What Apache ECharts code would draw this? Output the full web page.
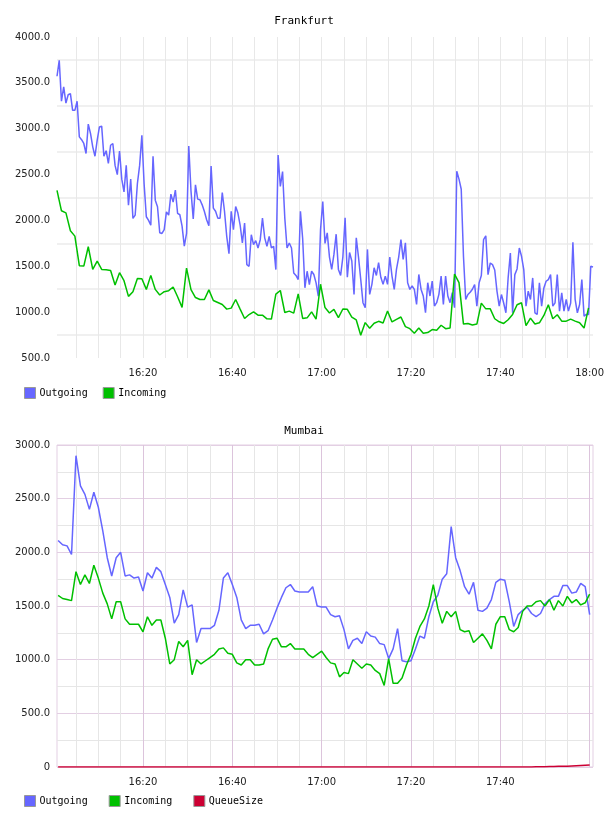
<!DOCTYPE html>
<html>
<head>
<meta charset="utf-8">
<script src="https://cdn.jsdelivr.net/npm/echarts@6/dist/echarts.min.js"></script>
<style>
  html, body { margin: 0; padding: 0; background: #fff; }
  #chart { width: 608px; height: 816px; }
</style>
</head>
<body>
<div id="chart"></div>
<script>
// time in minutes since midnight
const firstSample = 960.75
const fiveMinTicks = [965, 970, 975, 980, 985, 990, 995, 1000, 1005, 1010, 1015, 1020, 1025, 1030,
  1035, 1040, 1045, 1050, 1055, 1060, 1065, 1070, 1075, 1080]
const topTimeLabels = [980, 1000, 1020, 1040, 1060, 1080]
const bottomTimeLabels = [980, 1000, 1020, 1040, 1060]

// Frankfurt, Outgoing every 30 s
const frankfurtOutgoing = [
  3572, 3745, 3300, 3456, 3280, 3370, 3383, 3200, 3200, 3300,
  2911, 2880, 2839, 2730, 3050, 2948, 2802, 2700, 2875, 3020,
  3028, 2700, 2760, 2621, 2820, 2839, 2600, 2500, 2755, 2450,
  2312, 2600, 2167, 2450, 2022, 2058, 2403, 2600, 2929, 2400,
  2040, 2000, 1949, 2700, 2221, 2149, 1866, 1858, 1900, 2094,
  2058, 2287, 2200, 2330, 2076, 2062, 1938, 1720, 1858, 2810,
  2320, 2015, 2388, 2232, 2225, 2170, 2098, 2007, 1942, 2594,
  2134, 2100, 2025, 2025, 2304, 2100, 1826, 1638, 2100, 1899,
  2152, 2080, 1950, 1754, 1971, 1518, 1500, 1844, 1736, 1780,
  1700, 1790, 2025, 1810, 1718, 1826, 1700, 1718, 1464, 2714,
  2370, 2533, 2025, 1700, 1754, 1700, 1428, 1400, 1355, 2100,
  1800, 1265, 1446, 1300, 1446, 1410, 1319, 1174, 1900, 2207,
  1750, 1865, 1600, 1466, 1629, 1850, 1466, 1400, 1600, 2028,
  1380, 1650, 1557, 1194, 1811, 1600, 1357, 1103, 1049, 1684,
  1194, 1303, 1484, 1400, 1539, 1380, 1303, 1393, 1303, 1600,
  1393, 1248, 1466, 1600, 1792, 1575, 1756, 1321, 1248, 1285,
  1248, 1085, 1411, 1250, 1176, 994, 1321, 1176, 1339, 1067,
  1103, 1194, 1393, 1085, 1393, 1176, 1103, 1212, 1049, 2536,
  2450, 2340, 1609, 1138, 1192, 1217, 1250, 1301, 1065, 1319,
  1400, 1790, 1833, 1409, 1536, 1518, 1460, 1230, 1065, 1192,
  1100, 993, 1373, 1645, 993, 1409, 1471, 1699, 1609, 1464,
  1065, 1228, 1138, 1373, 993, 975, 1319, 1065, 1264, 1337,
  1355, 1409, 1065, 1102, 1409, 1011, 1210, 1011, 1138, 1011,
  1100, 1761, 1138, 993, 1083, 1355, 957, 975, 975, 1500, 1493
]

// Frankfurt, Incoming every minute
const frankfurtIncoming = [
  2327, 2105, 2083, 1887, 1829, 1506, 1502, 1713, 1466, 1557,
  1466, 1462, 1455, 1295, 1430, 1343, 1172, 1223, 1368, 1364,
  1248, 1401, 1248, 1187, 1223, 1234, 1274, 1168, 1052, 1480,
  1246, 1159, 1138, 1138, 1243, 1127, 1105, 1083, 1033, 1044,
  1138, 1033, 931, 974, 1003, 967, 967, 927, 924, 1196,
  1236, 996, 1011, 989, 1199, 931, 938, 1003, 924, 1304,
  1050, 991, 1031, 940, 1034, 1031, 947, 915, 748, 886,
  824, 879, 900, 882, 1013, 893, 922, 947, 842, 820,
  770, 828, 770, 777, 810, 802, 857, 820, 828, 1415,
  1321, 870, 877, 859, 870, 1098, 1036, 1036, 928, 895,
  877, 917, 975, 1080, 1102, 852, 935, 870, 884, 964,
  1080, 928, 971, 902, 902, 924, 902, 884, 826, 1047
]

// Mumbai, every minute
const mumbaiOutgoing = [
  2110, 2070, 2060, 1980, 2900, 2620, 2540, 2400, 2560, 2420,
  2200, 1950, 1780, 1950, 2000, 1780, 1790, 1760, 1770, 1640,
  1810, 1760, 1860, 1820, 1700, 1580, 1340, 1420, 1650, 1490,
  1510, 1160, 1290, 1290, 1290, 1320, 1460, 1760, 1810, 1700,
  1580, 1370, 1290, 1320, 1320, 1330, 1240, 1270, 1370, 1480,
  1580, 1670, 1700, 1640, 1630, 1630, 1630, 1680, 1500, 1490,
  1490, 1420, 1400, 1410, 1280, 1100, 1180, 1200, 1150, 1260,
  1220, 1210, 1150, 1140, 1010, 1100, 1290, 990, 980, 990,
  1100, 1220, 1200, 1400, 1540, 1600, 1750, 1800, 2240, 1950,
  1830, 1680, 1610, 1720, 1460, 1450, 1480, 1560, 1720, 1750,
  1740, 1540, 1310, 1420, 1460, 1490, 1430, 1400, 1430, 1520,
  1560, 1590, 1590, 1690, 1690, 1620, 1630, 1710, 1680, 1420
]
const mumbaiIncoming = [
  1600, 1570, 1560, 1550, 1820, 1700, 1790, 1710, 1880, 1760,
  1620, 1520, 1380, 1540, 1540, 1380, 1330, 1330, 1330, 1260,
  1400, 1320, 1370, 1370, 1200, 960, 1000, 1170, 1120, 1180,
  860, 1000, 960, 990, 1020, 1050, 1100, 1110, 1060, 1050,
  970, 950, 1000, 1000, 950, 950, 960, 1100, 1190, 1200,
  1120, 1120, 1150, 1100, 1100, 1100, 1050, 1020, 1050, 1080,
  1020, 970, 960, 840, 880, 870, 1000, 960, 920, 960,
  950, 900, 870, 760, 1010, 780, 780, 830, 950, 1050,
  1200, 1310, 1380, 1500, 1700, 1480, 1340, 1450, 1400, 1450,
  1280, 1260, 1270, 1160, 1200, 1240, 1180, 1100, 1330, 1400,
  1400, 1280, 1260, 1300, 1450, 1500, 1500, 1540, 1550, 1500,
  1560, 1460, 1550, 1500, 1590, 1530, 1560, 1510, 1530, 1610
]
const mumbaiQueueSize = [
  0, 0, 0, 0, 0, 0, 0, 0, 0, 0,
  0, 0, 0, 0, 0, 0, 0, 0, 0, 0,
  0, 0, 0, 0, 0, 0, 0, 0, 0, 0,
  0, 0, 0, 0, 0, 0, 0, 0, 0, 0,
  0, 0, 0, 0, 0, 0, 0, 0, 0, 0,
  0, 0, 0, 0, 0, 0, 0, 0, 0, 0,
  0, 0, 0, 0, 0, 0, 0, 0, 0, 0,
  0, 0, 0, 0, 0, 0, 0, 0, 0, 0,
  0, 0, 0, 0, 0, 0, 0, 0, 0, 0,
  0, 0, 0, 0, 0, 0, 0, 0, 0, 0,
  0, 0, 0, 0, 0, 1, 1, 2, 2, 3,
  4, 5, 6, 7, 8, 10, 12, 14, 16, 18
]

const MONO = 'DejaVu Sans Mono'
const SANS = 'DejaVu Sans'
const BLUE = '#6666ff'
const GREEN = '#00c000'
const RED = '#cc0033'

// 시간(분) -> HH:MM
const hhmm = v => {
  const h = Math.floor(v / 60)
  const m = Math.round(v % 60)
  return h + ':' + (m < 10 ? '0' + m : m)
}
const toPairs = (values, start, step) => values.map((v, i) => [start + i * step, v])

const xAxisBase = (gridIndex, labels) => ({
  gridIndex,
  type: 'value',
  min: 960.75,
  max: 1080.75,
  axisLine: { show: false },
  axisTick: { show: false, customValues: fiveMinTicks },
  axisLabel: {
    customValues: labels,
    formatter: hhmm,
    fontFamily: SANS,
    fontSize: 10,
    color: '#222',
    margin: 10
  }
})

const legendBase = {
  icon: 'rect', itemWidth: 11, itemHeight: 11, padding: 0,
  itemStyle: { borderColor: '#999', borderWidth: 1 },
  textStyle: { fontFamily: MONO, fontSize: 10, color: '#000', padding: [0, 0, 0, -1] }
}

const chart = echarts.init(document.getElementById('chart'))
chart.setOption({
  animation: false,
  title: [
    {
      text: 'Frankfurt', left: 'center', top: 11,
      textStyle: { fontFamily: MONO, fontSize: 11, fontWeight: 'normal', color: '#000' }
    },
    {
      text: 'Mumbai', left: 'center', top: 421,
      textStyle: { fontFamily: MONO, fontSize: 11, fontWeight: 'normal', color: '#000' }
    }
  ],
  legend: [
    Object.assign({ data: ['Outgoing', 'Incoming'], left: 24, top: 387, itemGap: 15 }, legendBase),
    Object.assign({ data: ['Outgoing', 'Incoming', 'QueueSize'], left: 24, top: 795, itemGap: 21 }, legendBase)
  ],
  grid: [
    { left: 57, right: 15, top: 37, height: 321 },
    { left: 57, right: 15, top: 445, height: 322, show: true, borderColor: '#e3cfe3', borderWidth: 1 }
  ],
  xAxis: [
    Object.assign(xAxisBase(0, topTimeLabels), {
      splitLine: { show: true, lineStyle: { color: '#e8e8e8', width: 1 } }
    }),
    Object.assign(xAxisBase(1, bottomTimeLabels), {
      splitLine: {
        show: true,
        lineStyle: { color: ['#e6e6e6', '#e6e6e6', '#e6e6e6', '#dcc4dc'], width: 1 }
      }
    })
  ],
  yAxis: [
    {
      gridIndex: 0, type: 'value', min: 500, max: 4000, interval: 250,
      axisLine: { show: false }, axisTick: { show: false },
      splitLine: { show: true, lineStyle: { color: ['rgba(0,0,0,0)', '#f0f0f0'], width: 2 } },
      axisLabel: {
        formatter: v => (v % 500 === 0 ? v.toFixed(1) : ''),
        fontFamily: SANS, fontSize: 10, color: '#222', margin: 7
      }
    },
    {
      gridIndex: 1, type: 'value', min: 0, max: 3000, interval: 250,
      axisLine: { show: false }, axisTick: { show: false },
      splitLine: { show: true, lineStyle: { color: ['#e3cfe3', '#e6e6e6'], width: 1 } },
      axisLabel: {
        formatter: v => (v === 0 ? '0' : v % 500 === 0 ? v.toFixed(1) : ''),
        fontFamily: SANS, fontSize: 10, color: '#222', margin: 7
      }
    }
  ],
  series: [
    {
      name: 'Outgoing', type: 'line', xAxisIndex: 0, yAxisIndex: 0,
      showSymbol: false, itemStyle: { color: BLUE },
      lineStyle: { color: BLUE, width: 1.5 },
      data: toPairs(frankfurtOutgoing, firstSample, 0.5)
    },
    {
      name: 'Incoming', type: 'line', xAxisIndex: 0, yAxisIndex: 0,
      showSymbol: false, itemStyle: { color: GREEN },
      lineStyle: { color: GREEN, width: 1.5 },
      data: toPairs(frankfurtIncoming, firstSample, 1)
    },
    {
      name: 'Outgoing', type: 'line', xAxisIndex: 1, yAxisIndex: 1,
      showSymbol: false, itemStyle: { color: BLUE },
      lineStyle: { color: BLUE, width: 1.5 },
      data: toPairs(mumbaiOutgoing, 961, 1)
    },
    {
      name: 'Incoming', type: 'line', xAxisIndex: 1, yAxisIndex: 1,
      showSymbol: false, itemStyle: { color: GREEN },
      lineStyle: { color: GREEN, width: 1.5 },
      data: toPairs(mumbaiIncoming, 961, 1)
    },
    {
      name: 'QueueSize', type: 'line', xAxisIndex: 1, yAxisIndex: 1,
      showSymbol: false, itemStyle: { color: RED },
      lineStyle: { color: RED, width: 1.5 },
      data: toPairs(mumbaiQueueSize, 961, 1)
    }
  ]
})
</script>
</body>
</html>
